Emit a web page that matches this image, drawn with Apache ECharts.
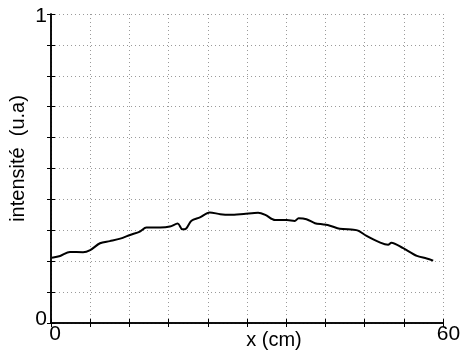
<!DOCTYPE html>
<html>
<head>
<meta charset="utf-8">
<script src="https://cdn.jsdelivr.net/npm/echarts@6/dist/echarts.min.js"></script>
<style>
  html, body { margin: 0; padding: 0; background: #fff; }
  #chart { width: 460px; height: 350px; }
</style>
</head>
<body>
<div id="chart"></div>
<script>
// profile: position (cm) and intensity (u.a)
const positionCm = [
  0.15, 1.4, 2.9, 4.9, 6.0, 7.5, 9.0, 10.6, 12.1, 13.6, 14.6, 16.7, 18.2,
  19.4, 20.1, 20.7, 21.5, 22.8, 24.3, 25.9, 27.4, 29.5, 31.7, 32.8, 34.3,
  36.1, 37.3, 37.9, 39.1, 40.4, 41.7, 42.7, 44.2, 46.3, 47.0, 48.3, 50.4,
  51.6, 52.1, 53.9, 56.0, 57.5, 58.5
];
const intensity = [
  0.211, 0.217, 0.230, 0.229, 0.236, 0.258, 0.265, 0.273, 0.285, 0.296, 0.309, 0.309, 0.312,
  0.322, 0.303, 0.306, 0.331, 0.342, 0.358, 0.352, 0.350, 0.353, 0.357, 0.350, 0.333,
  0.333, 0.330, 0.339, 0.336, 0.323, 0.319, 0.315, 0.305, 0.302, 0.299, 0.282, 0.260,
  0.253, 0.260, 0.242, 0.217, 0.209, 0.202
];
const xLabels = [0, 60];
const yLabels = [0, 1];

const chart = echarts.init(document.getElementById('chart'));
const font = 'Liberation Sans, Arial, sans-serif';
const txt = { fontFamily: font, fontSize: 21, color: '#000' };

const gridLine = { show: true, lineStyle: { color: '#9a9a9a', type: [1, 3], width: 1 } };
const frameLine = { show: true, lineStyle: { color: '#000', width: 1.5 } };
const tick = { show: true, inside: true, length: 4, lineStyle: { color: '#000', width: 1 } };

const option = {
  animation: false,
  backgroundColor: '#fff',
  grid: { left: 51, right: 17, top: 14, bottom: 27, outerBoundsMode: 'none', containLabel: false },
  xAxis: [
    {
      type: 'value', min: 0, max: 60, interval: 6,
      name: 'x (cm)', nameLocation: 'middle', nameGap: 7, nameMoveOverlap: false,
      nameTextStyle: { fontFamily: font, fontSize: 20, color: '#000', padding: [0, 0, 0, 54] },
      axisLine: frameLine, axisTick: tick, splitLine: gridLine,
      axisLabel: {
        margin: 1, ...txt,
        formatter: v => (xLabels.indexOf(v) >= 0 ? (v === 0 ? '{a|0}' : '{b|60}') : ''),
        rich: {
          a: { ...txt, padding: [0, 0, 0, 8] },
          b: { ...txt, padding: [0, 0, 0, 11] }
        }
      }
    },
    {
      type: 'value', position: 'top', min: 0, max: 60, interval: 6,
      axisLine: frameLine, axisTick: tick, axisLabel: { show: false }, splitLine: { show: false }
    }
  ],
  yAxis: [
    {
      type: 'value', min: 0, max: 1, interval: 0.1,
      name: 'intensité  (u.a)', nameLocation: 'middle', nameGap: 23, nameRotate: 90, nameMoveOverlap: false,
      nameTextStyle: { fontFamily: font, fontSize: 20, color: '#000', padding: [0, 0, 0, 20] },
      axisLine: frameLine, axisTick: tick, splitLine: gridLine,
      axisLabel: {
        margin: 4, ...txt,
        formatter: v => {
          const r = Math.round(v * 10) / 10;
          if (yLabels.indexOf(r) < 0) return '';
          return r === 0 ? '{z|0}' : '{o|1}';
        },
        rich: {
          z: { ...txt, padding: [0, 0, 8, 0] },
          o: { ...txt, padding: [4, 0, 0, 0] }
        }
      }
    },
    {
      type: 'value', position: 'right', min: 0, max: 1, interval: 0.1,
      axisLine: frameLine, axisTick: tick, axisLabel: { show: false }, splitLine: { show: false }
    }
  ],
  series: [
    {
      type: 'line',
      data: positionCm.map((x, i) => [x, intensity[i]]),
      showSymbol: false,
      smooth: 0.3,
      lineStyle: { color: '#000', width: 2 }
    }
  ]
};

chart.setOption(option);
</script>
</body>
</html>
